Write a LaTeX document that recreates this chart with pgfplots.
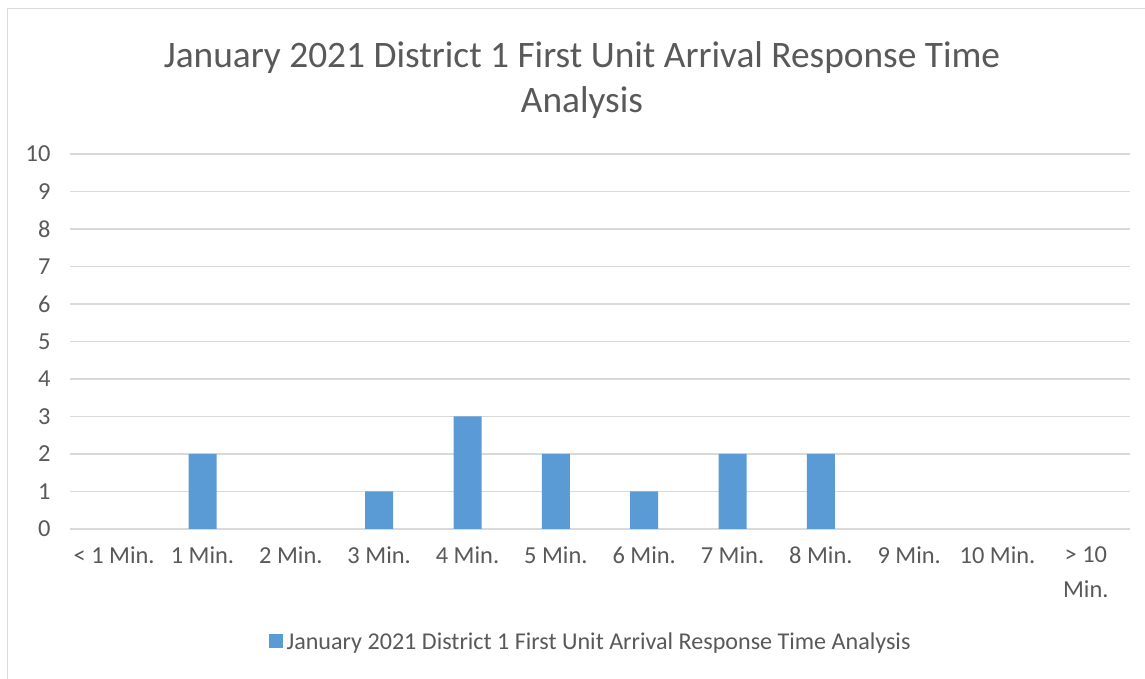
\documentclass[border=0pt]{standalone}
\usepackage{fontspec}
\setmainfont{Carlito}
\usepackage{pgfplots}
\pgfplotsset{compat=1.18}
\definecolor{barblue}{HTML}{5B9BD5}
\definecolor{gridgray}{HTML}{D9D9D9}
\definecolor{txtgray}{HTML}{595959}
\begin{document}
\begin{tikzpicture}[x=1bp,y=1bp]
\fill[white] (0,0) rectangle (1145,679);
\useasboundingbox (0,0) rectangle (1145,679);
\draw[gridgray, line width=1.2bp] (7.5,0) -- (7.5,670.5) -- (1145,670.5);
\node[txtgray, font=\fontsize{37.5}{45}\selectfont, align=center] at (582,599) {January 2021 District 1 First Unit Arrival Response Time\\Analysis};
\begin{axis}[
  at={(70bp,150bp)}, anchor=south west,
  scale only axis, width=1060bp, height=375bp,
  xmin=-0.5, xmax=11.5, ymin=0, ymax=10,
  xtick={0,...,11},
  xticklabels={{< 1 Min.},{1 Min.},{2 Min.},{3 Min.},{4 Min.},{5 Min.},{6 Min.},{7 Min.},{8 Min.},{9 Min.},{10 Min.},{> 10\\Min.}},
  ytick={0,...,10},
  ymajorgrids, grid style={gridgray, line width=1.2bp},
  axis x line*=bottom, axis y line*=left,
  x axis line style={gridgray, line width=1.2bp, -},
  y axis line style={draw=none},
  major tick length=0pt,
  tick label style={txtgray, font=\fontsize{24.5}{27}\selectfont},
  xticklabel style={align=center, yshift=-14bp, font=\fontsize{24.5}{35}\selectfont},
  yticklabel style={xshift=-16bp},
  /pgf/number format/assume math mode=true,
  legend style={at={(0.492,-0.30)}, anchor=center, draw=none, font=\fontsize{24.2}{27}\selectfont, text=txtgray, legend cell align=left, nodes={inner xsep=4bp}},
  legend image code/.code={\fill[barblue] (0bp,-7bp) rectangle (14bp,7bp);},
]
\addplot[ybar, bar width=28bp, fill=barblue, draw=none] coordinates {
(1,2) (3,1) (4,3) (5,2) (6,1) (7,2) (8,2)
};
\addlegendentry{January 2021 District 1 First Unit Arrival Response Time Analysis}
\end{axis}
\end{tikzpicture}
\end{document}
